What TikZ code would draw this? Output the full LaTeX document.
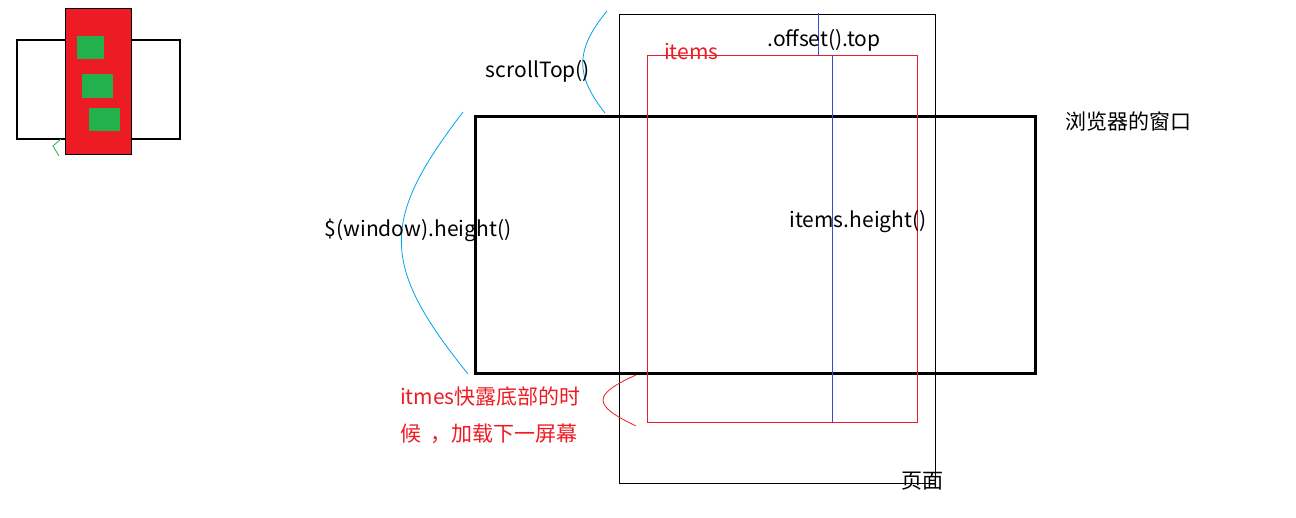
\documentclass[tikz,border=0pt]{standalone}
\usepackage{fontspec}
\setmainfont{Noto Sans CJK SC}
\definecolor{myred}{HTML}{ED1C24}
\definecolor{mygreen}{HTML}{22B14C}
\definecolor{mycyan}{HTML}{00A2E8}
\definecolor{myblue}{HTML}{3F48CC}
\tikzset{
  lbl/.style={inner sep=0pt, font=\fontsize{21}{24}\selectfont},
  redlbl/.style={lbl, text=myred},
  brace/.style={mycyan, line width=0.8pt},
}
\begin{document}
\begin{tikzpicture}[x=1pt,y=-1pt]
\useasboundingbox (0,0) rectangle (1296,518);
% small figure
\draw[line width=1.5pt] (17,40) rectangle (180,139);
\fill[myred] (65,9) rectangle (131,155);
\draw[line width=1pt] (65,9) rectangle (131,155);
\fill[mygreen] (77,36) rectangle (104,59);
\fill[mygreen] (82,74) rectangle (113,98);
\fill[mygreen] (89,108) rectangle (120,131);
\draw[mygreen, line width=0.8pt] (61,139) -- (53,146) -- (59,156);
% page
\node[draw, line width=0.8pt, minimum width=316pt, minimum height=469pt, anchor=north west, inner sep=0pt] (page) at (619,14) {};
% window
\node[draw, line width=2.6pt, minimum width=560pt, minimum height=257pt, anchor=north west, inner sep=0pt] (win) at (474,115) {};
% items
\node[draw=myred, line width=0.8pt, minimum width=270pt, minimum height=367pt, anchor=north west, inner sep=0pt] (items) at (647,55) {};
% blue lines
\coordinate (b1t) at (818,13);
\coordinate (b1b) at (818,56);
\draw[myblue, line width=0.8pt] (b1t) -- (b1b);
\draw[myblue, line width=0.8pt] (832,55) -- (832,422);
% cyan braces
\coordinate (s1) at (607,11);
\coordinate (s2) at (605,113);
\draw[brace] (s1) .. controls (575,50) and (575,75) .. (s2);
\coordinate (w1) at (463,112);
\coordinate (w2) at (468,374);
\draw[brace] (w1) .. controls (380,220) and (380,265) .. (w2);
% red brace
\coordinate (r1) at (636,375);
\coordinate (r2) at (636,426);
\draw[myred, line width=0.8pt] (r1) .. controls (592,395) and (592,405) .. (r2);
% labels
\node[lbl] (st) at (538,71) {scrollTop()};
\node[lbl] (ot) at (824,40) {.offset().top};
\node[redlbl, anchor=west] (it) at (664,52) {items};
\node[lbl] (wh) at (418,230) {\$(window).height()};
\node[lbl] (ih) at (858,222) {items.height()};
\node[lbl, anchor=west] (bw) at (1065,121) {浏览器的窗口};
\node[redlbl, anchor=west] (t1) at (400,397) {itmes快露底部的时};
\node[redlbl, anchor=west] (t2) at (400,434) {候\ \ ，加载下一屏幕};
\node[lbl] (pg) at (922,481) {页面};
\end{tikzpicture}
\end{document}
